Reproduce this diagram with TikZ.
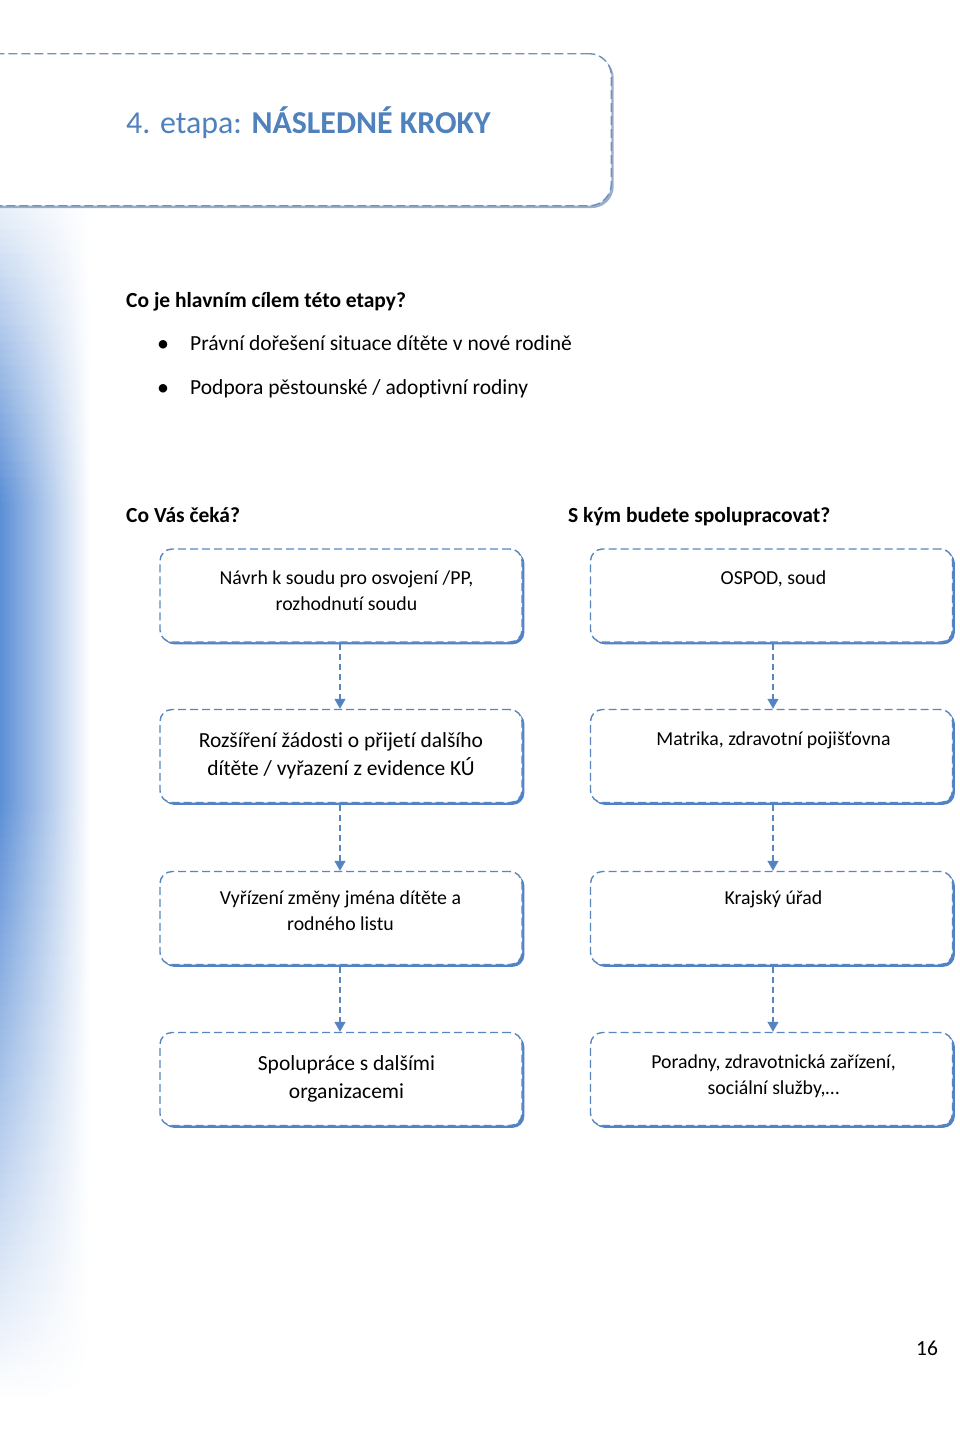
\documentclass[tikz,border=0pt]{standalone}
\usepackage{fontspec}
\setmainfont[Ligatures=NoCommon]{Carlito}
\usetikzlibrary{arrows.meta,shadows,calc}
\definecolor{bl}{HTML}{5A86C0}
\definecolor{shblue}{HTML}{4F82C8}
\definecolor{hdrline}{HTML}{7191BC}
\definecolor{hdrshadow}{HTML}{9AAECB}
\definecolor{titleblue}{HTML}{4F81BD}
\definecolor{gradblue}{HTML}{5C8FD6}
\tikzset{
  box/.style={draw=bl, dash pattern=on 8pt off 4pt, line width=1.4pt, rounded corners=12pt,
    fill=white, minimum width=362pt, minimum height=93pt, inner sep=0pt,
    drop shadow={shadow xshift=2.4pt, shadow yshift=-2.4pt, fill=shblue, opacity=1}},
  hdrbox/.style={draw=hdrline, dash pattern=on 9pt off 4pt, line width=1.4pt, rounded corners=22pt,
    fill=white, minimum width=650pt, minimum height=152pt, inner sep=0pt,
    drop shadow={shadow xshift=2.4pt, shadow yshift=-2.4pt, fill=hdrshadow, opacity=1}},
  small/.style={font=\fontsize{19.8}{26}\selectfont, text width=350pt, align=flush center, inner sep=0pt},
  large/.style={font=\fontsize{21.5}{28}\selectfont, text width=350pt, align=flush center, inner sep=0pt},
  body/.style={font=\fontsize{21.5}{24}\selectfont, inner sep=0pt, anchor=base west},
  arr/.style={draw=bl, line width=1.4pt, dash pattern=on 6pt off 4pt, -{Triangle[width=11pt,length=10pt,fill=shblue]}},
}
\begin{document}
\begin{tikzpicture}[x=1pt,y=-1pt]
\useasboundingbox (0,0) rectangle (960,1456);
\fill[white] (0,0) rectangle (960,1456);
% left gradient strip
\foreach \y in {205,213,...,1453} {
  \pgfmathsetmacro\pa{min(100, 14+(\y-205)/3.4)}
  \pgfmathsetmacro\pb{max(0, min(100, 100-(\y-800)/6.0))}
  \pgfmathtruncatemacro\p{min(\pa,\pb)}
  \pgfmathtruncatemacro\q{\p*0.5}
  \fill[left color=gradblue!\p!white, middle color=gradblue!\q!white, right color=white] (0,\y) rectangle (90,\y+8.6);
}
% header
\node[hdrbox, anchor=north east] (hdr) at (612,53) {};
\node[anchor=base west, inner sep=0pt, text=titleblue, font=\fontsize{31.9}{34}\selectfont] (title) at (126,133) {4. etapa: \textbf{NÁSLEDNÉ KROKY}};
% goals
\node[body] (q1) at (126,307) {\textbf{Co je hlavním cílem této etapy?}};
\node[body, font=\fontsize{24}{26}\selectfont] (bu1) at (157,351) {•};
\node[body] (g1) at (190,350) {Právní dořešení situace dítěte v nové rodině};
\node[body, font=\fontsize{24}{26}\selectfont] (bu2) at (157,395) {•};
\node[body] (g2) at (190,394) {Podpora pěstounské / adoptivní rodiny};
\node[body] (q2) at (126,522) {\textbf{Co Vás čeká?}};
\node[body] (q3) at (568,522) {\textbf{S kým budete spolupracovat?}};
% boxes
\node[box] (L1) at (341,595.5) {};
\node[box] (L2) at (341,756) {};
\node[box] (L3) at (341,918) {};
\node[box] (L4) at (341,1079) {};
\node[box] (R1) at (771.5,595.5) {};
\node[box] (R2) at (771.5,756) {};
\node[box] (R3) at (771.5,918) {};
\node[box] (R4) at (771.5,1079) {};
% box texts
\node[small, anchor=base] (tL1) at ($(L1.north)+(5.5,36)$) {Návrh k soudu pro osvojení /PP,\\rozhodnutí soudu};
\node[large, anchor=base] (tL2) at ($(L2.north)+(0,39)$) {Rozšíření žádosti o přijetí dalšího\\dítěte / vyřazení z evidence KÚ};
\node[small, anchor=base] (tL3) at ($(L3.north)+(-0.5,34)$) {Vyřízení změny jména dítěte a\\rodného listu};
\node[large, anchor=base] (tL4) at ($(L4.north)+(5.5,39)$) {Spolupráce s dalšími\\organizacemi};
\node[small, anchor=base] (tR1) at ($(R1.north)+(2,36)$) {OSPOD, soud};
\node[small, anchor=base] (tR2) at ($(R2.north)+(2,37)$) {Matrika, zdravotní pojišťovna};
\node[small, anchor=base] (tR3) at ($(R3.north)+(2,34)$) {Krajský úřad};
\node[small, anchor=base] (tR4) at ($(R4.north)+(2,37)$) {Poradny, zdravotnická zařízení,\\sociální služby,…};
% arrows
\draw[arr] ($(L1.south)+(-1,1.5)$) -- ($(L2.north)+(-1,0)$);
\draw[arr] ($(L2.south)+(-1,1.5)$) -- ($(L3.north)+(-1,0)$);
\draw[arr] ($(L3.south)+(-1,1.5)$) -- ($(L4.north)+(-1,0)$);
\draw[arr] ($(R1.south)+(1.5,1.5)$) -- ($(R2.north)+(1.5,0)$);
\draw[arr] ($(R2.south)+(1.5,1.5)$) -- ($(R3.north)+(1.5,0)$);
\draw[arr] ($(R3.south)+(1.5,1.5)$) -- ($(R4.north)+(1.5,0)$);
% page number
\node[body] (pg) at (916,1355) {16};
\end{tikzpicture}
\end{document}
